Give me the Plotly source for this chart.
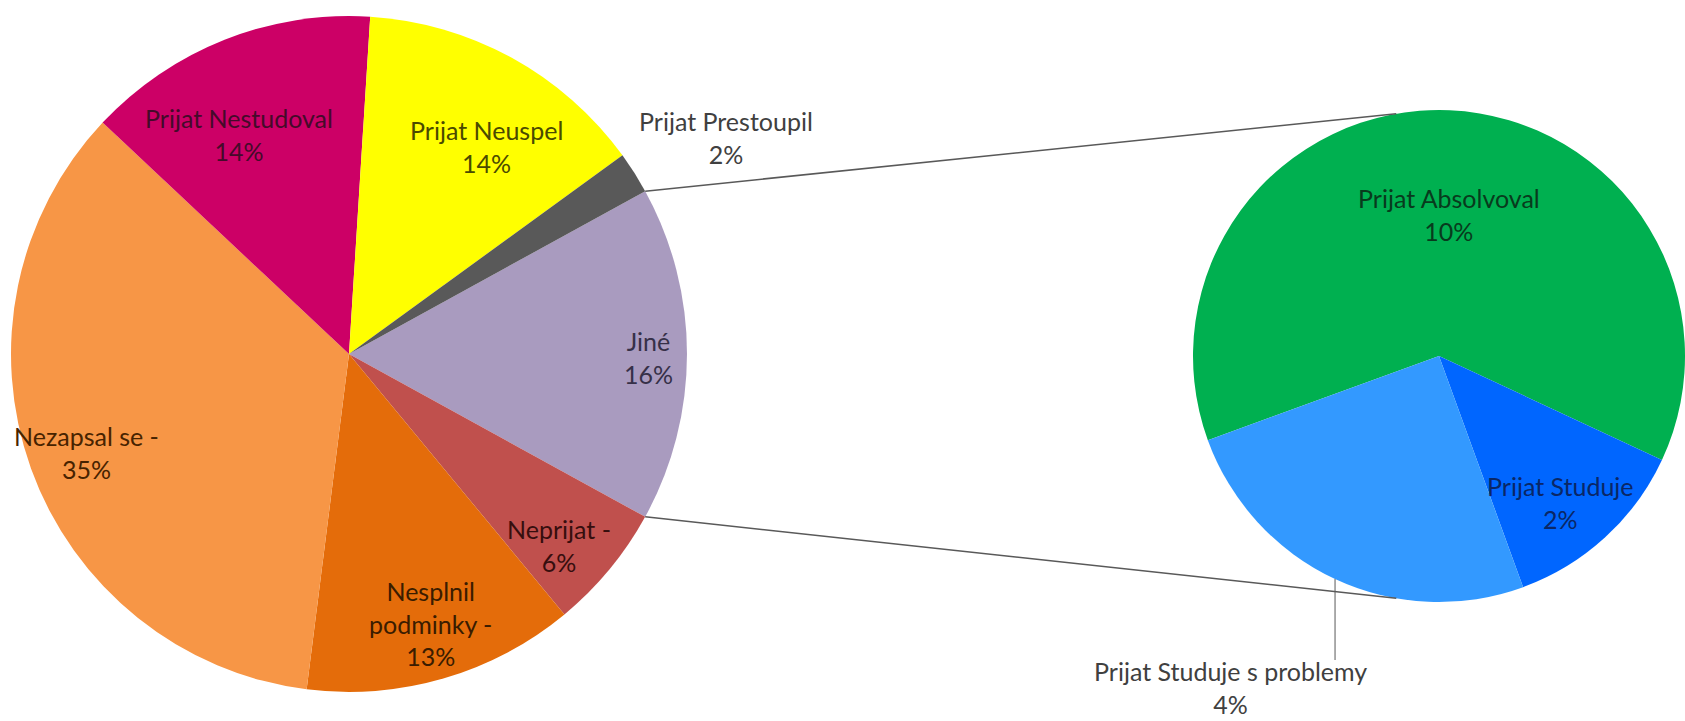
import math
import plotly.graph_objects as go

W, H = 1685, 721

# Primary pie: "Jiné" is broken out into the secondary pie
main_labels = ["Jiné", "Neprijat -", "Nesplnil podminky -", "Nezapsal se -",
               "Prijat Nestudoval", "Prijat Neuspel", "Prijat Prestoupil"]
main_values = [16, 6, 13, 35, 14, 14, 2]

# Secondary pie: breakdown of "Jiné"
sub_labels = ["Prijat Absolvoval", "Prijat Studuje", "Prijat Studuje s problemy"]
sub_values = [10, 2, 4]

main_colors = ["#A99BBF", "#C0504D", "#E46C0A", "#F79646",
               "#CC0066", "#FFFF00", "#595959"]
main_text_colors = ["#363048", "#360e0e", "#3a1c00", "#472300",
                    "#440b2a", "#4a4a00", "#404040"]
sub_colors = ["#00B050", "#0066FF", "#3399FF"]
sub_text_colors = ["#083b1d", "#0a2766", "#404040"]

# Wrapped display names for the data labels
wrap = {"Nesplnil podminky -": "Nesplnil<br>podminky -"}

# Label centres in pixels
label_pos = {
    "Jiné": (648, 357),
    "Neprijat -": (559, 545),
    "Nesplnil podminky -": (430, 623),
    "Nezapsal se -": (86, 452),
    "Prijat Nestudoval": (239, 134),
    "Prijat Neuspel": (487, 146),
    "Prijat Prestoupil": (726, 137),
    "Prijat Absolvoval": (1449, 215),
    "Prijat Studuje": (1560, 502),
    "Prijat Studuje s problemy": (1230, 687),
}

FONT = "Lato"
FONT_SIZE = 25
LINE_COLOR = "#595959"

# Pie geometry in pixels
MAIN_CX, MAIN_CY, MAIN_R = 349, 354, 338
SUB_BOX = (1193, 102, W, 610)  # left, top, right, bottom
SUB_CX = (SUB_BOX[0] + SUB_BOX[2]) / 2
SUB_CY = (SUB_BOX[1] + SUB_BOX[3]) / 2
SUB_R = min(SUB_BOX[2] - SUB_BOX[0], SUB_BOX[3] - SUB_BOX[1]) / 2
LEADER_END_Y = 660


def px(x):
    return x / W


def py(y):
    return 1 - y / H


def on_circle(cx, cy, r, deg):
    a = math.radians(deg)
    return cx + r * math.sin(a), cy - r * math.cos(a)


main_total = sum(main_values)
other_share = main_values[0] / main_total
main_rotation = 90 - 180 * other_share
sub_rotation = 250

fig = go.Figure()
fig.add_trace(go.Pie(
    labels=main_labels, values=main_values, sort=False,
    direction="clockwise", rotation=main_rotation,
    marker=dict(colors=main_colors, line=dict(width=0)),
    textinfo="none", hoverinfo="label+percent", showlegend=False,
    domain=dict(x=[px(MAIN_CX - MAIN_R), px(MAIN_CX + MAIN_R)],
                y=[py(MAIN_CY + MAIN_R), py(MAIN_CY - MAIN_R)]),
))
fig.add_trace(go.Pie(
    labels=sub_labels, values=sub_values, sort=False,
    direction="clockwise", rotation=sub_rotation,
    marker=dict(colors=sub_colors, line=dict(width=0)),
    textinfo="none", hoverinfo="label+value", showlegend=False,
    domain=dict(x=[px(SUB_BOX[0]), px(SUB_BOX[2])],
                y=[py(SUB_BOX[3]), py(SUB_BOX[1])]),
))

shapes = []
# Connector lines from the "Jiné" slice edges to the secondary pie
a_top = main_rotation
a_bot = main_rotation + 360 * other_share
for a_main, a_sub in ((a_top, -10), (a_bot, 190)):
    x0, y0 = on_circle(MAIN_CX, MAIN_CY, MAIN_R, a_main)
    x1, y1 = on_circle(SUB_CX, SUB_CY, SUB_R, a_sub)
    shapes.append(dict(type="line", xref="paper", yref="paper",
                       x0=px(x0), y0=py(y0), x1=px(x1), y1=py(y1),
                       line=dict(color=LINE_COLOR, width=1.5)))

# Leader line for the outside label of the last secondary slice
sub_total = sum(sub_values)
start = sub_rotation + 360 * sum(sub_values[:-1]) / sub_total
mid = start + 180 * sub_values[-1] / sub_total
lx, ly = on_circle(SUB_CX, SUB_CY, SUB_R, mid)
shapes.append(dict(type="line", xref="paper", yref="paper",
                   x0=px(lx), y0=py(ly), x1=px(lx), y1=py(LEADER_END_Y),
                   line=dict(color=LINE_COLOR, width=1)))

annotations = []
for labels, values, colors in ((main_labels, main_values, main_text_colors),
                               (sub_labels, sub_values, sub_text_colors)):
    for name, val, col in zip(labels, values, colors):
        x, y = label_pos[name]
        annotations.append(dict(
            x=px(x), y=py(y), xref="paper", yref="paper",
            text=f"{wrap.get(name, name)}<br>{val}%",
            showarrow=False, xanchor="center", yanchor="middle",
            align="center", font=dict(family=FONT, size=FONT_SIZE, color=col),
        ))

fig.update_layout(
    width=W, height=H, autosize=False,
    margin=dict(l=0, r=0, t=0, b=0),
    paper_bgcolor="white", plot_bgcolor="white",
    shapes=shapes, annotations=annotations,
)

fig.write_html("out.html")
